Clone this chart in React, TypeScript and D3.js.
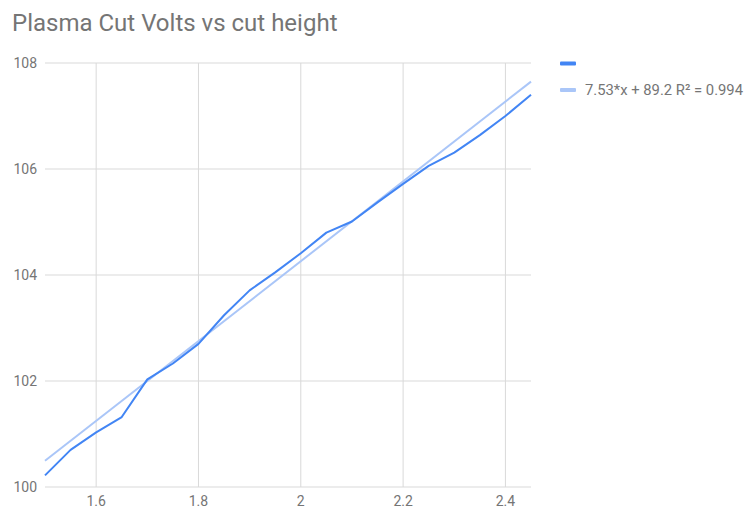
import React, { useEffect, useRef } from "react";
import * as d3 from "d3";

const cutHeights = [1.5, 1.55, 1.6, 1.65, 1.7, 1.75, 1.8, 1.85, 1.9, 1.95, 2.0, 2.05, 2.1, 2.15, 2.2, 2.25, 2.3, 2.35, 2.4, 2.45];
const volts = [100.22, 100.7, 101.03, 101.32, 102.03, 102.33, 102.7, 103.24, 103.71, 104.05, 104.41, 104.8, 105.01, 105.37, 105.72, 106.06, 106.31, 106.64, 107.0, 107.4];
const trendSlope = 7.53;
const trendIntercept = 89.2;
const xTicks = [1.6, 1.8, 2, 2.2, 2.4];
const yTicks = [100, 102, 104, 106, 108];
const trendLabel = "7.53*x + 89.2 R² = 0.994";

const App = () => {
  const ref = useRef<SVGSVGElement>(null);

  useEffect(() => {
    const width = 744;
    const height = 507;
    const margin = { top: 63, right: 213, bottom: 20, left: 45 };

    const svg = d3.select(ref.current);
    svg.selectAll("*").remove();

    const x = d3.scaleLinear().domain([1.5, 2.45]).range([margin.left, width - margin.right]);
    const y = d3.scaleLinear().domain([100, 108]).range([height - margin.bottom, margin.top]);

    svg.append("rect").attr("width", width).attr("height", height).attr("fill", "#fff");

    svg.append("text")
      .attr("x", 12)
      .attr("y", 31)
      .attr("font-size", 24)
      .attr("fill", "#757575")
      .text("Plasma Cut Volts vs cut height");

    // grid
    svg.append("g")
      .selectAll("line")
      .data(yTicks)
      .join("line")
      .attr("x1", x(1.5))
      .attr("x2", x(2.45))
      .attr("y1", (d) => y(d))
      .attr("y2", (d) => y(d))
      .attr("stroke", "#d9d9d9")
      .attr("stroke-width", 1);

    svg.append("g")
      .selectAll("line")
      .data(xTicks)
      .join("line")
      .attr("x1", (d) => x(d))
      .attr("x2", (d) => x(d))
      .attr("y1", y(108))
      .attr("y2", y(100))
      .attr("stroke", "#d9d9d9")
      .attr("stroke-width", 1);

    svg.append("g")
      .selectAll("text")
      .data(yTicks)
      .join("text")
      .attr("x", 37)
      .attr("y", (d) => y(d) + 5)
      .attr("text-anchor", "end")
      .attr("font-size", 14)
      .attr("fill", "#757575")
      .text((d) => d);

    svg.append("g")
      .selectAll("text")
      .data(xTicks)
      .join("text")
      .attr("x", (d) => x(d))
      .attr("y", 506)
      .attr("text-anchor", "middle")
      .attr("font-size", 14)
      .attr("fill", "#757575")
      .text((d) => String(d));

    // trendline
    const ends = [1.5, 2.45];
    svg.append("line")
      .attr("x1", x(ends[0]))
      .attr("y1", y(trendSlope * ends[0] + trendIntercept))
      .attr("x2", x(ends[1]))
      .attr("y2", y(trendSlope * ends[1] + trendIntercept))
      .attr("stroke", "#aac6f8")
      .attr("stroke-width", 2);

    const line = d3.line<number>()
      .x((d, i) => x(cutHeights[i]))
      .y((d) => y(d));

    svg.append("path")
      .datum(volts)
      .attr("d", line)
      .attr("fill", "none")
      .attr("stroke", "#4285f4")
      .attr("stroke-width", 2)
      .attr("stroke-linejoin", "round");

    // legend
    const legend = svg.append("g");
    legend.append("rect").attr("x", 560).attr("y", 61.5).attr("width", 16).attr("height", 4).attr("rx", 1).attr("fill", "#4285f4");
    legend.append("rect").attr("x", 560).attr("y", 88).attr("width", 16).attr("height", 4).attr("rx", 1).attr("fill", "#aac6f8");
    legend.append("text")
      .attr("x", 585)
      .attr("y", 95)
      .attr("font-size", 14.8)
      .attr("fill", "#757575")
      .text(trendLabel);
  }, []);

  return (
    <svg
      ref={ref}
      width={744}
      height={507}
      style={{ position: "absolute", left: 0, top: 0, fontFamily: "Roboto, sans-serif" }}
    />
  );
};

export default App;
